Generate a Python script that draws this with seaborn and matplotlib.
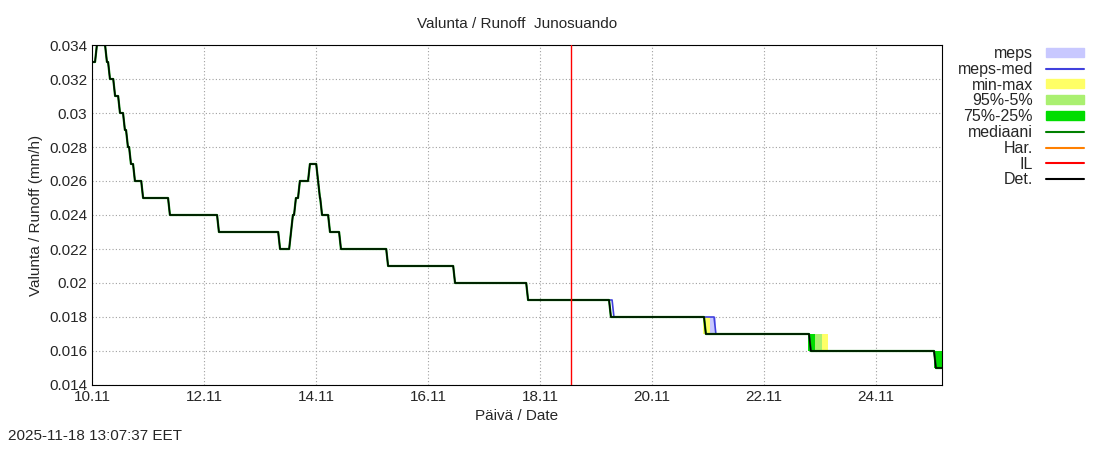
import numpy as np
import matplotlib
matplotlib.use("Agg")
import matplotlib.pyplot as plt
import seaborn as sns

# ==================================================
# DATA (hours since 10.11 00:00)
# ==================================================

det_hours = [0, 2.1, 5.1, 6.4, 7.7, 9.9, 12, 14.1, 15.4, 16.7, 18.4, 21.9, 33.4,
             54.4, 80.6, 85.3, 86.1, 87.4, 89.1, 93.4, 96.9, 97.7, 98.6, 102,
             106.7, 126.9, 155.6, 186.9, 222.4, 263.1, 308.1, 361.7, 364.3]
det_vals = [0.033, 0.034, 0.034, 0.033, 0.032, 0.031, 0.030, 0.029, 0.028, 0.027,
            0.026, 0.025, 0.024, 0.023, 0.022, 0.023, 0.024, 0.025, 0.026, 0.027,
            0.026, 0.025, 0.024, 0.023, 0.022, 0.021, 0.020, 0.019, 0.018, 0.017,
            0.016, 0.015, 0.015]

# band segments: (start hour, end hour, low, high)
meps_band = [(262, 267.4, 0.017, 0.018)]
minmax_band = [(261.8, 265, 0.017, 0.018), (306.8, 315.4, 0.016, 0.017), (360.8, 364.3, 0.015, 0.016)]
p95_band = [(306.8, 312.9, 0.016, 0.017), (360.8, 364.3, 0.015, 0.016)]
p75_band = [(306.8, 309.9, 0.016, 0.017), (360.8, 364.3, 0.015, 0.016)]
mepsmed_steps = [(186.9, 0.019), (223.7, 0.018), (267.4, 0.017), (308.1, 0.016), (361.7, 0.015)]
now_hour = 205.1

timestamp = "2025-11-18 13:07:37 EET"


def slanted(hours, vals, ramp=0.8):
    # hourly series: value changes over roughly one time step
    xs, ys = [hours[0]], [vals[0]]
    for i in range(1, len(hours)):
        if vals[i] != vals[i - 1]:
            xs.append(hours[i] - ramp)
            ys.append(vals[i - 1])
        xs.append(hours[i])
        ys.append(vals[i])
    return xs, ys


# ==================================================
# PLOT
# ==================================================

sns.set_style("white")
plt.rcParams["font.family"] = ["Liberation Sans", "DejaVu Sans"]

fig = plt.figure(figsize=(11, 4.5), dpi=100)
ax = fig.add_axes([92 / 1100, 65 / 450, 850 / 1100, 340 / 450])

for x0, x1, lo, hi in meps_band:
    ax.fill_between([x0, x1], lo, hi, color="#c8c8ff", lw=0)
for x0, x1, lo, hi in minmax_band:
    ax.fill_between([x0, x1], lo, hi, color="#ffff66", lw=0)
for x0, x1, lo, hi in p95_band:
    ax.fill_between([x0, x1], lo, hi, color="#aaf070", lw=0)
for x0, x1, lo, hi in p75_band:
    ax.fill_between([x0, x1], lo, hi, color="#00dd00", lw=0)

mx = [h for h, v in mepsmed_steps] + [364.3]
my = [v for h, v in mepsmed_steps] + [mepsmed_steps[-1][1]]
ax.plot(*slanted(mx, my), color="#4040dd", lw=1.2)

dx, dy = slanted(det_hours, det_vals)
ax.plot(dx, dy, color="#008000", lw=1.6)
ax.plot(dx, dy, color="black", lw=1.0)

ax.axvline(now_hour, color="#ff0000", lw=1.0, zorder=4)

ax.set_xlim(0, 364.3)
ax.set_ylim(0.014, 0.034)
ax.set_xticks(np.arange(0, 361, 48))
ax.set_xticklabels(["10.11", "12.11", "14.11", "16.11", "18.11", "20.11", "22.11", "24.11"])
ax.set_yticks(np.arange(0.014, 0.0341, 0.002))
ax.set_yticklabels(["%g" % round(v, 3) for v in np.arange(0.014, 0.0341, 0.002)])
ax.tick_params(labelsize=11, direction="in", length=4)
ax.grid(True, color="#a0a0a0", linestyle=(0, (1, 2)), lw=0.8)
for s in ax.spines.values():
    s.set_color("black")
    s.set_linewidth(0.8)

ax.set_xlabel("Päivä / Date", fontsize=11)
ax.set_ylabel("Valunta / Runoff (mm/h)", fontsize=11)
ax.set_title("Valunta / Runoff  Junosuando", fontsize=11, pad=12)

# legend
handles = [
    plt.Rectangle((0, 0), 1, 1, color="#c8c8ff"),
    plt.Line2D([], [], color="#4040dd"),
    plt.Rectangle((0, 0), 1, 1, color="#ffff66"),
    plt.Rectangle((0, 0), 1, 1, color="#aaf070"),
    plt.Rectangle((0, 0), 1, 1, color="#00dd00"),
    plt.Line2D([], [], color="#008000", lw=1.5),
    plt.Line2D([], [], color="#ff8000", lw=1.5),
    plt.Line2D([], [], color="red", lw=1.5),
    plt.Line2D([], [], color="black", lw=1.5),
]
labels = ["meps", "meps-med", "min-max", "95%-5%", "75%-25%", "mediaani", "Har.", "IL", "Det."]
leg = fig.legend(handles, labels, loc="upper right", bbox_to_anchor=(1092 / 1100, 412 / 450),
                 frameon=False, markerfirst=False, fontsize=11.5, handlelength=2.4,
                 handleheight=0.5, labelspacing=0.05, borderpad=0)
for t in leg.get_texts():
    t.set_ha("right")

fig.text(8 / 1100, 10 / 450, timestamp, fontsize=11)

fig.savefig("out.png", dpi=100)
